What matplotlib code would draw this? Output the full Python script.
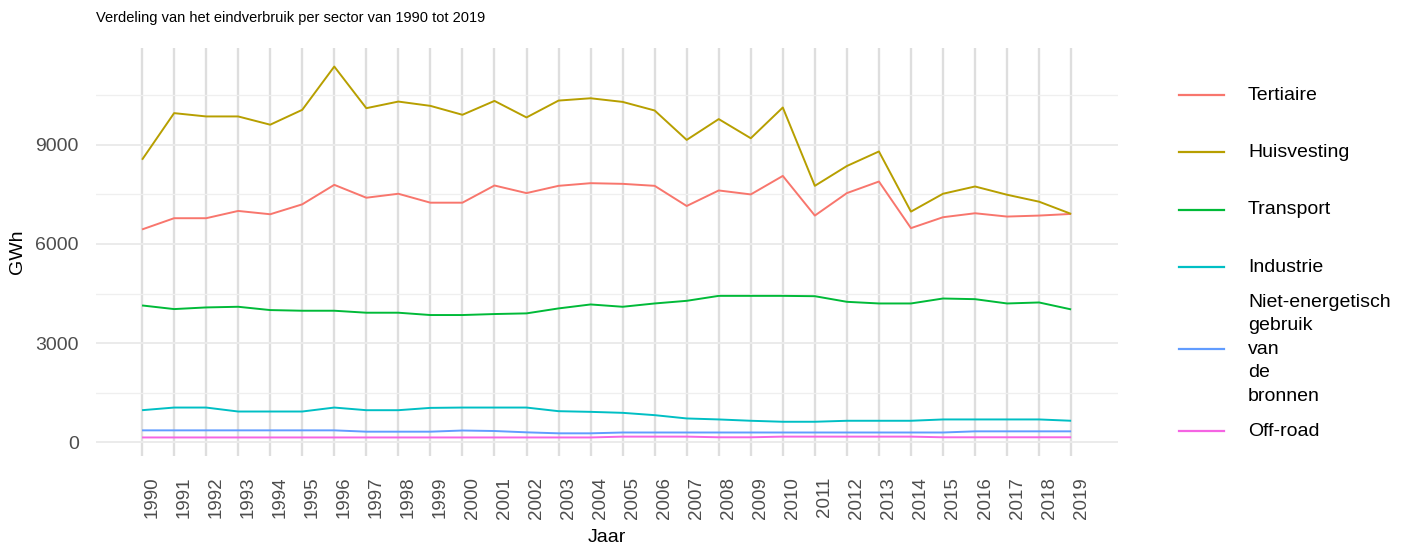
import numpy as np
import matplotlib
matplotlib.use("Agg")
import matplotlib.pyplot as plt
from matplotlib.lines import Line2D
import matplotlib.transforms as mtransforms

plt.rcParams['font.family'] = ['Liberation Sans', 'DejaVu Sans']

# data (GWh)
years = list(range(1990, 2020))
tertiaire = [6440, 6780, 6780, 7000, 6900, 7200, 7790, 7400, 7520, 7250,
             7250, 7770, 7540, 7760, 7840, 7820, 7760, 7150, 7620, 7500,
             8060, 6860, 7540, 7890, 6480, 6810, 6930, 6830, 6860, 6910]
huisvesting = [8550, 9960, 9860, 9860, 9610, 10060, 11370, 10110, 10310, 10180,
               9910, 10330, 9830, 10340, 10410, 10300, 10040, 9150, 9780, 9200,
               10130, 7760, 8360, 8800, 6980, 7520, 7740, 7490, 7280, 6910]
transport = [4140, 4030, 4080, 4100, 4000, 3980, 3980, 3920, 3920, 3850,
             3850, 3880, 3900, 4050, 4170, 4100, 4200, 4280, 4430, 4430,
             4430, 4420, 4250, 4200, 4200, 4350, 4330, 4200, 4230, 4020]
industrie = [970, 1050, 1050, 930, 930, 930, 1050, 970, 970, 1040,
             1050, 1050, 1050, 940, 920, 890, 820, 720, 690, 650,
             620, 620, 650, 650, 650, 690, 690, 690, 690, 650]
niet_energetisch = [360, 360, 360, 360, 360, 360, 360, 320, 320, 320,
                    355, 340, 300, 270, 270, 295, 295, 295, 295, 295,
                    295, 295, 295, 295, 295, 295, 330, 330, 330, 330]
off_road = [145, 145, 145, 145, 145, 145, 145, 145, 145, 145,
            145, 145, 145, 145, 145, 170, 170, 170, 150, 150,
            170, 170, 170, 170, 170, 150, 150, 150, 150, 150]

labels = ["Tertiaire", "Huisvesting", "Transport", "Industrie",
          "Niet-energetisch\ngebruik\nvan\nde\nbronnen", "Off-road"]
colors = ["#F8766D", "#B79F00", "#00BA38", "#00BFC4", "#619CFF", "#F564E3"]
series = [tertiaire, huisvesting, transport, industrie, niet_energetisch, off_road]

W, H = 1408, 548
fig = plt.figure(figsize=(W / 100, H / 100), dpi=100)

# panel in pixel coords (left, top, right, bottom)
pl, pt, pr, pb = 95.6, 48, 1117.6, 456
ax = fig.add_axes([pl / W, 1 - pb / H, (pr - pl) / W, (pb - pt) / H])

for vals, col in zip(series, colors):
    ax.plot(years, vals, color=col, lw=1.4, solid_capstyle='butt', zorder=3)

# ggplot-like 5% expansion
allv = np.concatenate([np.array(s) for s in series])
rng = allv.max() - allv.min()
ax.set_ylim(allv.min() - 0.05 * rng, allv.max() + 0.05 * rng)
xr = years[-1] - years[0]
ax.set_xlim(years[0] - 0.05 * xr, years[-1] + 0.05 * xr)

ax.set_xticks(years)
ax.set_xticklabels([str(y) for y in years])
ax.set_yticks([0, 3000, 6000, 9000])
ax.set_yticks([1500, 4500, 7500, 10500], minor=True)
ax.grid(axis='x', which='major', color='#DEDEDE', lw=1.7, zorder=0)
ax.grid(axis='y', which='major', color='#EBEBEB', lw=1.4, zorder=0)
ax.grid(axis='y', which='minor', color='#EFEFEF', lw=0.9, zorder=0)
ax.set_axisbelow(True)
for s in ax.spines.values():
    s.set_visible(False)

ax.tick_params(axis='x', which='both', length=0, pad=15, labelsize=13.5,
               labelcolor='#4D4D4D', labelrotation=90)
ax.tick_params(axis='y', which='both', length=0, pad=12, labelsize=14,
               labelcolor='#4D4D4D')
shift = mtransforms.ScaledTranslation(10 / 100, 0, fig.dpi_scale_trans)
for lbl in ax.get_xticklabels():
    lbl.set_transform(lbl.get_transform() + shift)

# titles
fig.text(pl / W, 1 - 18 / H, "Verdeling van het eindverbruik per sector van 1990 tot 2019",
         ha='left', va='center', fontsize=10.5, color='black')
fig.text((pl + pr) / 2 / W, 1 - 537 / H, "Jaar", ha='center', va='center',
         fontsize=14, color='black')
fig.text(17.5 / W, 1 - (pt + pb) / 2 / H, "GWh", ha='center', va='center',
         rotation=90, fontsize=14, color='black')

# legend drawn by hand to mimic ggplot key heights
key_h = 57.5
line_h = 21.25
cy = 95 - key_h / 2
for lab, col in zip(labels, colors):
    n = lab.count("\n") + 1
    h = max(key_h, n * line_h)
    c = cy + h / 2
    fig.add_artist(Line2D([1179 / W, 1224 / W], [1 - c / H, 1 - c / H],
                          color=col, lw=1.6, transform=fig.transFigure))
    fig.text(1248 / W, 1 - c / H, lab, ha='left', va='center', fontsize=14,
             linespacing=1.5, color='black')
    cy += h

fig.savefig("out.png", dpi=100)
